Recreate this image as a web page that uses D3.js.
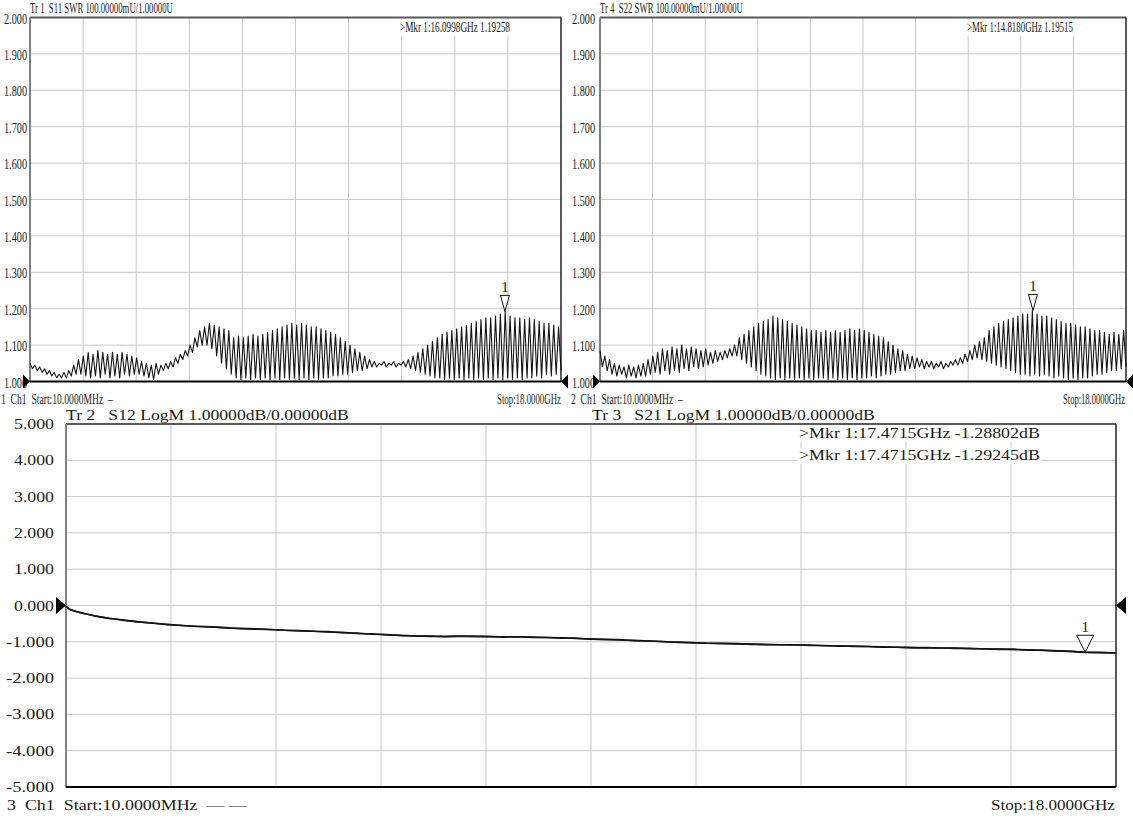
<!DOCTYPE html>
<html lang="en">
<head>
  <meta charset="UTF-8">
  <title>S-parameter sweep: SWR and LogM</title>
  <style>
  body {
    margin: 0;
    background: #fff;
  }
  svg {
    display: block;
  }
  text {
    font-family: "Liberation Serif", "DejaVu Serif", serif;
    fill: #1a1a1a;
    white-space: pre;
  }
  .grid line {
    stroke: #c9c9c9;
    stroke-width: 1;
  }
  .trace {
    fill: none;
    stroke: #151515;
    stroke-linejoin: round;
  }
  </style>
</head>
<body>
  <script src="https://cdn.jsdelivr.net/npm/d3@7/dist/d3.min.js"></script>
  <script>

  // sweep and axis settings
  var startGHz = 0.01;
  var stopGHz = 18;
  var swrTicks = [2.0, 1.9, 1.8, 1.7, 1.6, 1.5, 1.4, 1.3, 1.2, 1.1, 1.0];
  var dbTicks = [5, 4, 3, 2, 1, 0, -1, -2, -3, -4, -5];

  // S11 SWR, ripple extremes (equally spaced sweep points)
  var s11Swr = [
    1.05, 1.035, 1.045, 1.03, 1.04, 1.025, 1.035, 1.02, 1.03, 1.015, 1.025, 1.01, 1.02,
    1.01, 1.025, 1.01, 1.03, 1.015, 1.045, 1.02, 1.06,
    1.02, 1.07, 1.015, 1.08, 1.01, 1.075, 1.015, 1.085, 1.01, 1.08, 1.02, 1.075, 1.01, 1.08,
    1.015, 1.075, 1.01, 1.08, 1.02, 1.075, 1.015, 1.07, 1.02, 1.065,
    1.02, 1.055, 1.015, 1.05, 1.01, 1.045, 1.005, 1.05, 1.02,
    1.045, 1.03, 1.05, 1.035, 1.055, 1.04, 1.065, 1.05, 1.075, 1.06, 1.085, 1.07,
    1.10, 1.08, 1.12, 1.095, 1.14, 1.10, 1.15, 1.10, 1.16, 1.09, 1.155, 1.07, 1.15, 1.05, 1.145, 1.035, 1.14,
    1.02, 1.12, 1.01, 1.125, 1.005, 1.12, 1.01, 1.125, 1.005, 1.13, 1.01, 1.125, 1.005, 1.13, 1.01,
    1.135, 1.005, 1.14, 1.01, 1.145,
    1.005, 1.15, 1.01, 1.155, 1.005, 1.16, 1.01, 1.155, 1.005, 1.16, 1.01, 1.155, 1.005, 1.15, 1.01,
    1.15, 1.005, 1.145, 1.01, 1.14, 1.01,
    1.135, 1.015, 1.13, 1.015, 1.12, 1.02, 1.11, 1.02, 1.10, 1.025, 1.09, 1.03, 1.08, 1.03, 1.07, 1.035,
    1.06, 1.04, 1.055, 1.04, 1.05, 1.045, 1.055, 1.04, 1.05, 1.045, 1.055, 1.04, 1.05, 1.045, 1.055, 1.04, 1.06,
    1.035, 1.07, 1.03, 1.08, 1.025, 1.09, 1.02, 1.10, 1.015, 1.11, 1.01, 1.12,
    1.01, 1.13, 1.005, 1.135, 1.01, 1.14, 1.005, 1.145, 1.01, 1.15, 1.005, 1.155, 1.01, 1.16, 1.005,
    1.165, 1.01, 1.17, 1.005, 1.175, 1.01, 1.175, 1.005, 1.18, 1.01, 1.185, 1.005, 1.193, 1.01, 1.18,
    1.005, 1.175, 1.01,
    1.175, 1.005, 1.17, 1.01, 1.175, 1.01, 1.17, 1.015, 1.165, 1.01, 1.16, 1.02, 1.16, 1.015, 1.155,
    1.02, 1.15, 1.03
  ];

  // S22 SWR, ripple extremes
  var s22Swr = [
    1.085, 1.04, 1.07, 1.03, 1.06, 1.02, 1.05, 1.015, 1.045, 1.02, 1.04, 1.01, 1.045, 1.015, 1.04,
    1.01, 1.045, 1.015, 1.05, 1.015, 1.06,
    1.02, 1.07, 1.025, 1.08, 1.02, 1.09, 1.03, 1.085, 1.02, 1.095, 1.03, 1.09, 1.025, 1.10, 1.035,
    1.09, 1.03, 1.095, 1.04, 1.09, 1.035, 1.085, 1.04, 1.09, 1.045, 1.08, 1.05, 1.085, 1.055,
    1.08, 1.06, 1.085, 1.065, 1.09, 1.07, 1.10, 1.07,
    1.12, 1.06, 1.13, 1.05, 1.14, 1.04, 1.15, 1.03, 1.16, 1.02, 1.165, 1.015, 1.17, 1.01, 1.18, 1.005,
    1.175, 1.01, 1.17, 1.005, 1.165, 1.01, 1.16, 1.005, 1.155, 1.01, 1.15, 1.005, 1.145, 1.01, 1.14,
    1.005, 1.14, 1.01,
    1.135, 1.01, 1.14, 1.005, 1.135, 1.01, 1.14, 1.005, 1.135, 1.01, 1.14, 1.005, 1.145, 1.01, 1.14,
    1.005, 1.145, 1.01, 1.14, 1.01, 1.135, 1.015, 1.13, 1.01, 1.125, 1.015, 1.12, 1.02, 1.11, 1.02,
    1.10, 1.025, 1.09,
    1.03, 1.085, 1.03, 1.075, 1.035, 1.07, 1.035, 1.065, 1.04, 1.06, 1.035, 1.055, 1.04, 1.055, 1.035,
    1.05, 1.04, 1.055, 1.035, 1.05, 1.04, 1.055, 1.045, 1.06, 1.045,
    1.065, 1.05, 1.075, 1.055, 1.085, 1.06, 1.10, 1.065, 1.11, 1.06, 1.12, 1.055,
    1.14, 1.05, 1.15, 1.045, 1.16, 1.04, 1.165, 1.035, 1.17, 1.03, 1.175, 1.025, 1.18, 1.02, 1.185,
    1.02, 1.185, 1.015, 1.195, 1.02, 1.185, 1.015, 1.18, 1.02, 1.18, 1.015, 1.175, 1.01, 1.17, 1.015,
    1.165, 1.01, 1.16, 1.005, 1.16, 1.01, 1.155, 1.005, 1.15, 1.01, 1.15, 1.01, 1.145, 1.015, 1.14,
    1.02, 1.14, 1.02, 1.135, 1.025, 1.13, 1.03, 1.135, 1.03, 1.13, 1.035, 1.14, 1.04
  ];

  // S12 / S21 LogM (dB) at these frequencies (GHz)
  var logmFreq = [
    0.01, 0.05, 0.1, 0.2, 0.3, 0.4, 0.5, 0.62, 0.75, 0.88,
    1, 1.25, 1.5, 1.75, 2, 2.25, 2.5, 2.75, 3, 3.25, 3.5, 3.75, 4, 4.25, 4.5, 4.75,
    5, 5.25, 5.5, 5.75, 6, 6.25, 6.5, 6.75, 7, 7.25, 7.5, 7.75, 8, 8.25, 8.5, 8.75,
    9, 9.25, 9.5, 9.75, 10, 10.25, 10.5, 10.75, 11, 11.25, 11.5, 11.75, 12, 12.25, 12.5, 12.75,
    13, 13.25, 13.5, 13.75, 14, 14.25, 14.5, 14.75, 15, 15.25, 15.5, 15.75, 16, 16.25, 16.5, 16.75,
    17, 17.25, 17.4715, 17.75, 18
  ];
  var s12Db = [
    -0.02, -0.08, -0.12, -0.17, -0.21, -0.25, -0.28, -0.32, -0.35, -0.38,
    -0.40, -0.45, -0.48, -0.53, -0.55, -0.57, -0.59, -0.62, -0.63, -0.64, -0.66, -0.68, -0.69, -0.71, -0.72, -0.75,
    -0.76, -0.79, -0.80, -0.83, -0.84, -0.85, -0.85, -0.84, -0.85, -0.86, -0.86, -0.86, -0.87, -0.88, -0.89, -0.91,
    -0.92, -0.93, -0.95, -0.96, -0.98, -1.00, -1.01, -1.03, -1.04, -1.04, -1.05, -1.07, -1.07, -1.08, -1.08, -1.10,
    -1.10, -1.12, -1.12, -1.13, -1.14, -1.15, -1.16, -1.16, -1.17, -1.18, -1.18, -1.20, -1.20, -1.21, -1.22, -1.24,
    -1.25, -1.26, -1.288, -1.29, -1.31
  ];
  var s21Db = [
    -0.02, -0.08, -0.13, -0.17, -0.22, -0.25, -0.29, -0.32, -0.36, -0.38,
    -0.41, -0.45, -0.49, -0.52, -0.55, -0.58, -0.59, -0.61, -0.64, -0.65, -0.66, -0.68, -0.70, -0.71, -0.73, -0.74,
    -0.77, -0.78, -0.81, -0.82, -0.84, -0.84, -0.86, -0.85, -0.85, -0.85, -0.87, -0.86, -0.88, -0.88, -0.90, -0.90,
    -0.93, -0.94, -0.94, -0.97, -0.98, -0.99, -1.02, -1.02, -1.04, -1.05, -1.06, -1.06, -1.08, -1.08, -1.09, -1.09,
    -1.11, -1.11, -1.13, -1.13, -1.15, -1.15, -1.16, -1.17, -1.17, -1.17, -1.19, -1.19, -1.21, -1.21, -1.23, -1.23,
    -1.25, -1.27, -1.292, -1.30, -1.31
  ];

  // marker readouts
  var s11Marker = { freq: 16.0998, value: 1.19258 };
  var s22Marker = { freq: 14.8180, value: 1.19515 };
  var logmMarker = { freq: 17.4715, value: -1.28802 };

  var width = 1133;
  var height = 818;

  var svg = d3.select('body').append('svg')
              .attr('width', width)
              .attr('height', height);

  // text squeezed/stretched horizontally to the width it has on the analyser screen
  function fitText(t, x, y, len, anchor) {
    var natural = t.node().getComputedTextLength();
    var sx = len / natural;
    var left = anchor === 'end' ? x - len : (anchor === 'middle' ? x - len / 2 : x);
    t.attr('transform', 'translate(' + left + ',' + y + ') scale(' + sx + ',1)');
    return t;
  }

  function addText(g, str, x, y, size, len, anchor) {
    var t = g.append('text')
             .attr('font-size', size)
             .text(str);
    return fitText(t, x, y, len, anchor);
  }

  function drawPanel(p) {
    var g = svg.append('g');
    var x = d3.scaleLinear().domain([startGHz, stopGHz]).range([p.x0, p.x1]);
    var y = d3.scaleLinear().domain([p.ticks[p.ticks.length - 1], p.ticks[0]]).range([p.y1, p.y0]);
    var fmt = d3.format('.3f');

    // grid: 10 divisions each way
    var xDivs = d3.range(1, 10).map(function (k) { return startGHz + k * (stopGHz - startGHz) / 10; });
    var grid = g.append('g').attr('class', 'grid');
    grid.selectAll('.v')
        .data(xDivs)
        .enter()
        .append('line')
        .attr('x1', function (d) { return x(d); })
        .attr('x2', function (d) { return x(d); })
        .attr('y1', p.y0)
        .attr('y2', p.y1);
    grid.selectAll('.h')
        .data(p.ticks.slice(1, -1))
        .enter()
        .append('line')
        .attr('x1', p.x0)
        .attr('x2', p.x1)
        .attr('y1', function (d) { return y(d); })
        .attr('y2', function (d) { return y(d); });

    // tick labels
    p.ticks.forEach(function (d) {
      var s = fmt(d).replace('\u2212', '-');
      addText(g, s, p.labelX, y(d) + p.labelDy, p.tickSize, s.length * p.charW, 'end');
    });

    // frame
    g.append('line').attr('x1', p.x0).attr('x2', p.x1).attr('y1', p.y0).attr('y2', p.y0)
     .attr('stroke', '#5a5a5a').attr('stroke-width', 2);
    g.append('line').attr('x1', p.x0).attr('x2', p.x0).attr('y1', p.y0).attr('y2', p.y1)
     .attr('stroke', '#808080').attr('stroke-width', 2);
    g.append('line').attr('x1', p.x1).attr('x2', p.x1).attr('y1', p.y0).attr('y2', p.y1)
     .attr('stroke', '#222').attr('stroke-width', 1.5);

    // readouts with white backing (grid is hidden behind them)
    p.readouts.forEach(function (r) {
      g.append('rect')
       .attr('x', r.x - 1)
       .attr('y', r.y - p.fontSize + 3)
       .attr('width', r.len + 2)
       .attr('height', p.fontSize + 1)
       .attr('fill', '#fff');
      addText(g, r.str, r.x, r.y, p.fontSize, r.len);
    });

    // traces
    var line = d3.line()
                 .x(function (d) { return x(d[0]); })
                 .y(function (d) { return y(d[1]); });
    p.traces.forEach(function (t) {
      g.append('path')
       .datum(t)
       .attr('class', 'trace')
       .attr('stroke-width', p.traceW)
       .attr('d', line);
    });

    g.append('line').attr('x1', p.x0).attr('x2', p.x1).attr('y1', p.y1).attr('y2', p.y1)
     .attr('stroke', '#000').attr('stroke-width', 2);

    // reference level arrows
    var ry = y(p.refLevel);
    var aw = p.arrowW, ah = p.arrowH;
    g.append('path')
     .attr('d', 'M' + (p.x0 - aw) + ',' + (ry - ah) + 'L' + p.x0 + ',' + ry + 'L' + (p.x0 - aw) + ',' + (ry + ah) + 'Z')
     .attr('fill', '#000');
    g.append('path')
     .attr('d', 'M' + (p.x1 + aw) + ',' + (ry - ah) + 'L' + p.x1 + ',' + ry + 'L' + (p.x1 + aw) + ',' + (ry + ah) + 'Z')
     .attr('fill', '#000');

    // marker triangle
    var m = p.marker;
    var mx = x(m.freq), my = y(m.value);
    g.append('path')
     .attr('d', 'M' + mx + ',' + my + 'L' + (mx - p.mkW) + ',' + (my - p.mkH) + 'L' + (mx + p.mkW) + ',' + (my - p.mkH) + 'Z')
     .attr('fill', '#fff')
     .attr('fill-opacity', 0.6)
     .attr('stroke', '#111')
     .attr('stroke-width', 1);
    g.append('text')
     .attr('x', mx)
     .attr('y', my - p.mkH - 3)
     .attr('font-size', p.fontSize)
     .attr('text-anchor', 'middle')
     .attr('fill', p.mkColor)
     .text('1');

    p.labels.forEach(function (l) {
      addText(g, l.str, l.x, l.y, l.size || p.fontSize, l.len, l.anchor);
    });
  }

  function idxFreq(arr) {
    var f = d3.scaleLinear().domain([0, arr.length - 1]).range([startGHz, stopGHz]);
    return arr.map(function (v, i) { return [f(i), v]; });
  }

  drawPanel({
    x0: 30, x1: 561, y0: 17.5, y1: 381.5,
    ticks: swrTicks, refLevel: 1.0,
    labelX: 27, labelDy: 6, charW: 4.6, tickSize: 15, fontSize: 15,
    traceW: 1.1, arrowW: 7, arrowH: 7,
    traces: [idxFreq(s11Swr)],
    marker: s11Marker, mkW: 4.5, mkH: 16, mkColor: '#222',
    readouts: [{ str: '>Mkr 1:16.0998GHz 1.19258', x: 400, y: 32, len: 110 }],
    labels: [
      { str: 'Tr 1  S11 SWR 100.00000mU/1.00000U', x: 30, y: 13, len: 143 },
      { str: '1  Ch1  Start:10.0000MHz  \u2013', x: 1, y: 404, len: 112, size: 14 },
      { str: 'Stop:18.0000GHz', x: 561, y: 404, len: 64, size: 14, anchor: 'end' }
    ]
  });

  drawPanel({
    x0: 600, x1: 1126, y0: 17.5, y1: 381.5,
    ticks: swrTicks, refLevel: 1.0,
    labelX: 595, labelDy: 6, charW: 4.6, tickSize: 15, fontSize: 15,
    traceW: 1.1, arrowW: 7, arrowH: 7,
    traces: [idxFreq(s22Swr)],
    marker: s22Marker, mkW: 4.5, mkH: 16, mkColor: '#222',
    readouts: [{ str: '>Mkr 1:14.8180GHz 1.19515', x: 967, y: 32, len: 106 }],
    labels: [
      { str: 'Tr 4  S22 SWR 100.00000mU/1.00000U', x: 600, y: 13, len: 143 },
      { str: '2  Ch1  Start:10.0000MHz  \u2013', x: 571, y: 404, len: 112, size: 14 },
      { str: 'Stop:18.0000GHz', x: 1125, y: 404, len: 62, size: 14, anchor: 'end' }
    ]
  });

  var s12Trace = logmFreq.map(function (f, i) { return [f, s12Db[i]]; });
  var s21Trace = logmFreq.map(function (f, i) { return [f, s21Db[i]]; });

  drawPanel({
    x0: 66, x1: 1116, y0: 424, y1: 787,
    ticks: dbTicks, refLevel: 0,
    labelX: 54, labelDy: 5, charW: 8, tickSize: 15, fontSize: 15,
    traceW: 1.6, arrowW: 10, arrowH: 8.5,
    traces: [s12Trace, s21Trace],
    marker: logmMarker, mkW: 8.5, mkH: 17, mkColor: '#9a5a00',
    readouts: [
      { str: '>Mkr 1:17.4715GHz -1.28802dB', x: 799, y: 438, len: 241 },
      { str: '>Mkr 1:17.4715GHz -1.29245dB', x: 799, y: 460, len: 241 }
    ],
    labels: [
      { str: 'Tr 2   S12 LogM 1.00000dB/0.00000dB', x: 66, y: 420, len: 283 },
      { str: 'Tr 3   S21 LogM 1.00000dB/0.00000dB', x: 592, y: 420, len: 283 },
      { str: '3  Ch1  Start:10.0000MHz  \u2014 \u2014', x: 7, y: 810, len: 240 },
      { str: 'Stop:18.0000GHz', x: 1115, y: 810, len: 124, anchor: 'end' }
    ]
  });
  </script>
</body>
</html>
